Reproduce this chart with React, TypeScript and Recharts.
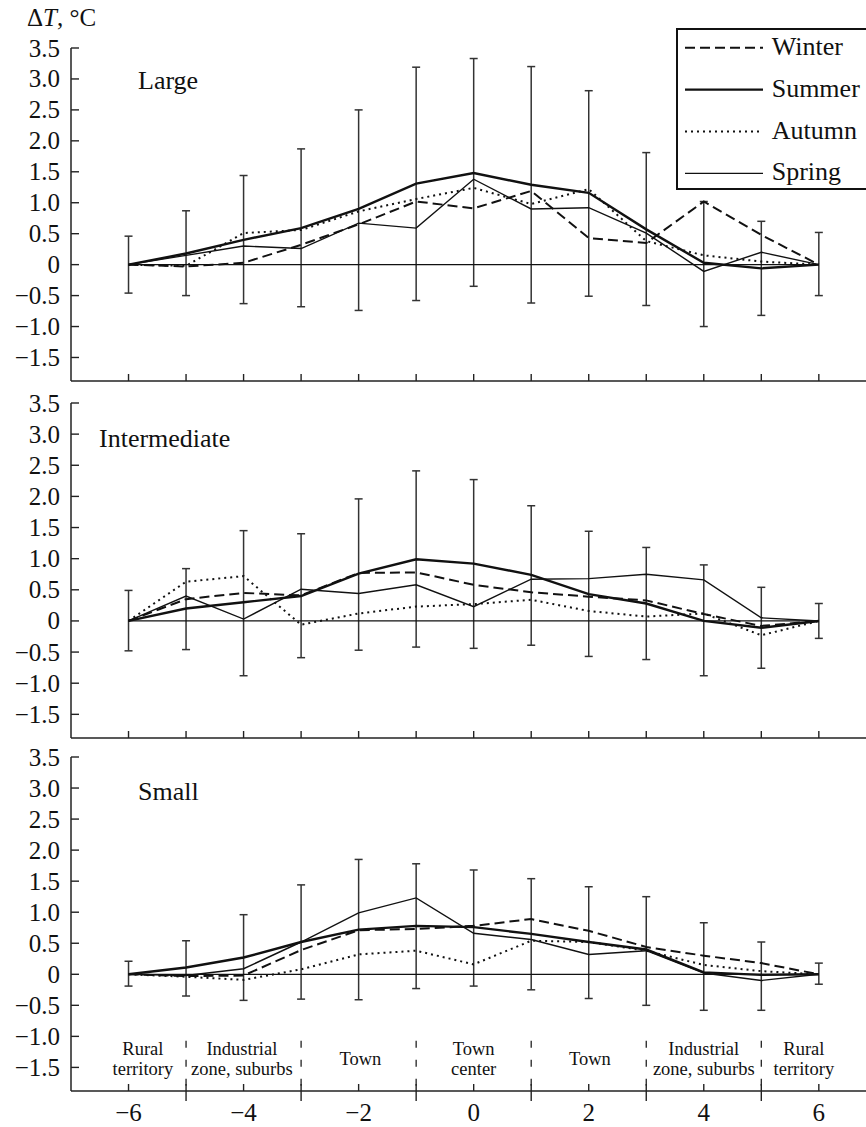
import React from "react";
import {
  LineChart,
  Line,
  XAxis,
  YAxis,
  ErrorBar,
  Legend,
  ReferenceLine,
  ReferenceDot,
} from "recharts";

const FONT = "Liberation Serif, DejaVu Serif, Times New Roman, serif";
const INK = "#111";

// distance from town center (x axis)
const distances = [-6, -5, -4, -3, -2, -1, 0, 1, 2, 3, 4, 5, 6];
const yTicks = [-1.5, -1, -0.5, 0, 0.5, 1, 1.5, 2, 2.5, 3, 3.5];

// Large towns
const largeWinter = [0, -0.03, 0.03, 0.32, 0.65, 1.02, 0.91, 1.19, 0.43, 0.35, 1.02, 0.48, 0];
const largeSummer = [0, 0.18, 0.4, 0.59, 0.9, 1.31, 1.48, 1.29, 1.16, 0.57, 0.03, -0.06, 0];
const largeAutumn = [0, -0.02, 0.51, 0.56, 0.86, 1.06, 1.24, 0.98, 1.22, 0.38, 0.15, 0.05, 0];
const largeSpring = [0, 0.15, 0.3, 0.26, 0.67, 0.59, 1.38, 0.9, 0.92, 0.51, -0.11, 0.2, 0];
const largeErrHigh = [0.46, 0.87, 1.44, 1.87, 2.5, 3.19, 3.33, 3.2, 2.81, 1.81, 1.02, 0.7, 0.52];
const largeErrLow = [-0.46, -0.5, -0.63, -0.68, -0.74, -0.58, -0.35, -0.62, -0.51, -0.66, -1.0, -0.82, -0.5];

// Intermediate towns
const midWinter = [0, 0.35, 0.45, 0.41, 0.77, 0.78, 0.58, 0.46, 0.39, 0.33, 0.11, -0.08, 0];
const midSummer = [0, 0.2, 0.3, 0.4, 0.76, 0.99, 0.92, 0.74, 0.43, 0.28, 0.0, -0.11, 0];
const midAutumn = [0, 0.63, 0.72, -0.06, 0.12, 0.23, 0.27, 0.34, 0.16, 0.07, 0.12, -0.23, 0];
const midSpring = [0, 0.4, 0.03, 0.51, 0.44, 0.58, 0.23, 0.67, 0.68, 0.75, 0.66, 0.05, 0];
const midErrHigh = [0.49, 0.84, 1.45, 1.4, 1.96, 2.41, 2.27, 1.85, 1.44, 1.18, 0.9, 0.54, 0.28];
const midErrLow = [-0.48, -0.46, -0.88, -0.59, -0.47, -0.42, -0.44, -0.39, -0.57, -0.62, -0.88, -0.76, -0.28];

// Small towns
const smallWinter = [0, -0.03, -0.02, 0.39, 0.71, 0.73, 0.78, 0.89, 0.7, 0.44, 0.3, 0.18, 0];
const smallSummer = [0, 0.11, 0.27, 0.52, 0.72, 0.78, 0.76, 0.65, 0.52, 0.4, 0.03, -0.01, 0];
const smallAutumn = [0, -0.04, -0.09, 0.08, 0.32, 0.38, 0.16, 0.54, 0.52, 0.38, 0.15, 0.05, 0];
const smallSpring = [0, -0.02, 0.09, 0.52, 0.99, 1.23, 0.66, 0.56, 0.32, 0.38, 0.02, -0.1, 0];
const smallErrHigh = [0.21, 0.54, 0.96, 1.44, 1.85, 1.78, 1.68, 1.54, 1.41, 1.25, 0.83, 0.52, 0.18];
const smallErrLow = [-0.19, -0.35, -0.42, -0.4, -0.41, -0.23, -0.19, -0.25, -0.39, -0.5, -0.58, -0.58, -0.16];

// zones along the transect
const zoneNames = [
  ["Rural", "territory"],
  ["Industrial", "zone, suburbs"],
  ["Town"],
  ["Town", "center"],
  ["Town"],
  ["Industrial", "zone, suburbs"],
  ["Rural", "territory"],
];
const zoneCenters = [-5.75, -4.03, -1.97, 0, 2.02, 4.0, 5.74];
const zoneBorders = [-5, -3, -1, 1, 3, 5];

const seasons = ["Winter", "Summer", "Autumn", "Spring"];
const seasonStyle: Record<string, { width: number; dash?: string }> = {
  Winter: { width: 2, dash: "10 5" },
  Summer: { width: 2.4 },
  Autumn: { width: 2, dash: "2 4" },
  Spring: { width: 1.4 },
};

function buildRows(w: number[], s: number[], a: number[], sp: number[], lo: number[], hi: number[]) {
  return distances.map((x, i) => ({
    x,
    Winter: w[i],
    Summer: s[i],
    Autumn: a[i],
    Spring: sp[i],
    base: 0,
    err: [-lo[i], hi[i]],
  }));
}

const largeRows = buildRows(largeWinter, largeSummer, largeAutumn, largeSpring, largeErrLow, largeErrHigh);
const midRows = buildRows(midWinter, midSummer, midAutumn, midSpring, midErrLow, midErrHigh);
const smallRows = buildRows(smallWinter, smallSummer, smallAutumn, smallSpring, smallErrLow, smallErrHigh);

const fmt = (v: number) => (v === 0 ? "0" : v.toFixed(1).replace("-", "\u2212"));

const YTick = (props: any) => {
  const { x, y, payload } = props;
  return (
    <g>
      <line x1={x} y1={y} x2={x + 8} y2={y} stroke="#222" strokeWidth={1.4} />
      <text x={x - 11} y={y} dy="0.34em" textAnchor="end" fontFamily={FONT} fontSize={25} fill={INK}>
        {fmt(payload.value)}
      </text>
    </g>
  );
};

const makeXTick = (withLabels: boolean) => (props: any) => {
  const { x, y, payload } = props;
  const v = payload.value as number;
  const even = v % 2 === 0;
  return (
    <g>
      <line x1={x} y1={y} x2={x} y2={y - 7} stroke="#222" strokeWidth={1.4} />
      {withLabels && !even && <line x1={x} y1={y} x2={x} y2={y + 10} stroke="#222" strokeWidth={1.4} />}
      {withLabels && even && (
        <text x={x} y={y + 30} textAnchor="middle" fontFamily={FONT} fontSize={25} fill={INK}>
          {String(v).replace("-", "\u2212")}
        </text>
      )}
    </g>
  );
};

const ZoneLabel = ({ cx, cy, lines }: { cx: number; cy: number; lines: string[] }) => (
  <text textAnchor="middle" fontFamily={FONT} fontSize={18.5} fill={INK}>
    {lines.length === 1 ? (
      <tspan x={cx} y={cy + 5}>{lines[0]}</tspan>
    ) : (
      <>
        <tspan x={cx} y={cy - 5}>{lines[0]}</tspan>
        <tspan x={cx} y={cy + 15}>{lines[1]}</tspan>
      </>
    )}
  </text>
);

const LegendBox = (props: any) => {
  const entries = props.payload || [];
  const items = seasons
    .map((s) => entries.find((e: any) => String(e.dataKey) === s))
    .filter(Boolean);
  return (
    <svg width={200} height={162} style={{ display: "block" }}>
      <rect x={1} y={1} width={220} height={160} fill="#fff" stroke={INK} strokeWidth={2} />
      {items.map((e: any, i: number) => {
        const st = seasonStyle[String(e.dataKey)];
        const cy = 19.7 + i * 41.9;
        return (
          <g key={String(e.dataKey)}>
            <line x1={9} x2={87} y1={cy} y2={cy} stroke={INK} strokeWidth={st.width} strokeDasharray={st.dash} />
            <text x={95.7} y={cy + 7} fontFamily={FONT} fontSize={26} fill={INK}>
              {e.value}
            </text>
          </g>
        );
      })}
    </svg>
  );
};

type PanelProps = {
  rows: any[];
  top: number;
  height: number;
  marginTop: number;
  xAxisHeight: number;
  withLegend?: boolean;
  withZones?: boolean;
};

const Panel = ({ rows, top, height, marginTop, xAxisHeight, withLegend, withZones }: PanelProps) => (
  <div style={{ position: "absolute", left: 0, top }}>
    <LineChart width={866} height={height} data={rows} margin={{ top: marginTop, right: 0, bottom: 0, left: 0 }}>
      <XAxis
        type="number"
        dataKey="x"
        domain={[-7, 6.82]}
        ticks={distances}
        interval={0}
        allowDataOverflow
        tickLine={false}
        tickSize={0}
        tickMargin={0}
        height={xAxisHeight}
        axisLine={{ stroke: "#222", strokeWidth: 1.5 }}
        tick={makeXTick(!!withZones)}
      />
      <YAxis
        type="number"
        domain={[-1.88, 3.5]}
        ticks={yTicks}
        interval={0}
        allowDataOverflow
        width={71}
        tickLine={false}
        tickSize={0}
        tickMargin={0}
        axisLine={{ stroke: "#222", strokeWidth: 1.5 }}
        tick={YTick}
      />
      {withZones &&
        zoneBorders.map((b) => (
          <ReferenceLine
            key={`border-${b}`}
            segment={[
              { x: b, y: -1.07 },
              { x: b, y: -1.88 },
            ]}
            stroke="#222"
            strokeWidth={1.3}
            strokeDasharray="7 12"
          />
        ))}
      {withZones &&
        zoneNames.map((lines, i) => (
          <ReferenceDot
            key={`zone-${i}`}
            x={zoneCenters[i]}
            y={-1.38}
            r={0}
            ifOverflow="visible"
            shape={(p: any) => <ZoneLabel cx={p.cx} cy={p.cy} lines={lines} />}
          />
        ))}
      <Line
        dataKey="base"
        stroke={INK}
        strokeWidth={1.3}
        dot={false}
        activeDot={false}
        legendType="none"
        isAnimationActive={false}
      >
        <ErrorBar dataKey="err" direction="y" width={4} stroke="#333" strokeWidth={1.5} />
      </Line>
      {seasons.map((s) => (
        <Line
          key={s}
          type="linear"
          dataKey={s}
          name={s}
          stroke={INK}
          strokeWidth={seasonStyle[s].width}
          strokeDasharray={seasonStyle[s].dash}
          dot={false}
          activeDot={false}
          isAnimationActive={false}
        />
      ))}
      {withLegend && (
        <Legend
          layout="horizontal"
          verticalAlign="middle"
          align="center"
          wrapperStyle={{ left: 676, top: 28, width: 200, height: 162 }}
          content={LegendBox}
        />
      )}
    </LineChart>
  </div>
);

export default function App() {
  return (
    <div
      style={{
        position: "absolute",
        left: 0,
        top: 0,
        width: 866,
        height: 1127,
        overflow: "hidden",
        background: "#fff",
      }}
    >
      <Panel rows={largeRows} top={0} height={391} marginTop={48} xAxisHeight={10} withLegend />
      <Panel rows={midRows} top={380} height={368} marginTop={23} xAxisHeight={10} />
      <Panel rows={smallRows} top={730} height={397} marginTop={27} xAxisHeight={36} withZones />
      <svg
        width={866}
        height={1127}
        style={{ position: "absolute", left: 0, top: 0, pointerEvents: "none" }}
      >
        <text x={27} y={26} fontFamily={FONT} fontSize={25} fill={INK}>
          {"\u0394"}
          <tspan fontStyle="italic">T</tspan>
          {", \u00B0C"}
        </text>
        <text x={138} y={89} fontFamily={FONT} fontSize={26} fill={INK}>
          Large
        </text>
        <text x={99} y={447} fontFamily={FONT} fontSize={26} fill={INK}>
          Intermediate
        </text>
        <text x={138} y={800} fontFamily={FONT} fontSize={26} fill={INK}>
          Small
        </text>
      </svg>
    </div>
  );
}
